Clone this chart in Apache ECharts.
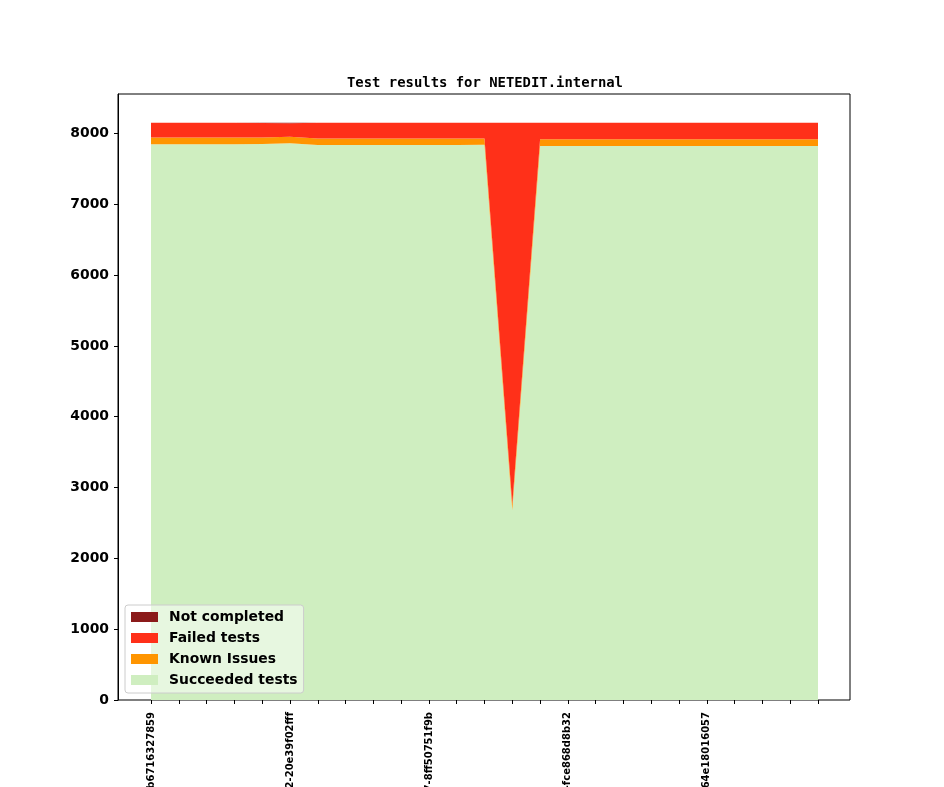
<!DOCTYPE html>
<html>
<head>
<meta charset="utf-8">
<title>Test results for NETEDIT.internal</title>
<script src="https://cdn.jsdelivr.net/npm/echarts@6/dist/echarts.min.js"></script>
<style>
  html, body { margin: 0; padding: 0; background: #fff; }
  #chart { width: 944px; height: 787px; }
</style>
</head>
<body>
<div id="chart"></div>
<script>
// builds (x axis), only every 5th one is labelled
const categories = [
  '2023-02-25-b6716327859', '2023-02-26-3a1f9c04e2d', '2023-02-27-7c2e5b81a90', '2023-02-28-e94d0a6b13f',
  '2023-03-01-5b08c7f2d41', '2023-03-02-20e39f02fff', '2023-03-03-c41a7e9d825', '2023-03-04-0f6b3d28ea7',
  '2023-03-05-91d5c0a4b36', '2023-03-06-a7e2f813c50', '2023-03-07-8ff50751f9b', '2023-03-08-4d9c12e7b08',
  '2023-03-09-e03b6f5a91c', '2023-03-10-62af0d84c7e', '2023-03-11-1c7e94b3fd2', '2023-03-12-fce868d8b32',
  '2023-03-13-b52d07e1a6f', '2023-03-14-3e81fa9c042', '2023-03-15-d6c30b7f15a', '2023-03-16-09a4e62d8bc',
  '2023-03-17-64e18016057', '2023-03-18-7b3f5c90e21', '2023-03-19-f20d8a46c13', '2023-03-20-a85e1b3097d',
  '2023-03-21-2d6f94c0e8b'
];

const succeeded = [7848, 7848, 7848, 7848, 7850, 7862, 7838, 7838, 7838, 7838, 7838, 7838, 7840,
  2680, 7822, 7822, 7822, 7822, 7822, 7822, 7822, 7822, 7822, 7822, 7822];
const knownIssues = [94, 94, 94, 94, 94, 93, 90, 90, 90, 90, 90, 90, 89,
  88, 96, 96, 96, 96, 96, 96, 96, 96, 96, 96, 96];
const failed = [208, 208, 208, 208, 202, 189, 224, 224, 224, 224, 224, 224, 223,
  5384, 234, 234, 234, 234, 234, 234, 234, 234, 234, 234, 234];
const notCompleted = [2, 2, 2, 2, 6, 8, 0, 0, 0, 0, 0, 0, 0,
  0, 0, 0, 0, 0, 0, 0, 0, 0, 0, 0, 0];

const yTicks = [0, 1000, 2000, 3000, 4000, 5000, 6000, 7000, 8000];
const yMax = 8557;

const font = 'DejaVu Sans';

function area(name, data, color) {
  return {
    name: name,
    type: 'line',
    stack: 'total',
    xAxisIndex: 1,
    yAxisIndex: 1,
    data: data,
    symbol: 'none',
    color: color,
    lineStyle: { width: 0 },
    areaStyle: { color: color, opacity: 1 },
    emphasis: { disabled: true }
  };
}

const chart = echarts.init(document.getElementById('chart'), null, { renderer: 'canvas' });
chart.setOption({
  animation: false,
  title: {
    text: 'Test results for NETEDIT.internal',
    left: 342,
    top: 71,
    textStyle: { fontFamily: 'DejaVu Sans Mono', fontWeight: 'bold', fontSize: 13.9, color: '#000' }
  },
  legend: {
    orient: 'vertical',
    left: 125,
    top: 605,
    padding: [5, 6, 6, 6],
    itemGap: 7,
    itemWidth: 27,
    itemHeight: 10,
    icon: 'rect',
    backgroundColor: 'rgba(255,255,255,0.5)',
    borderColor: '#cccccc',
    borderWidth: 1,
    borderRadius: 3,
    data: ['Not completed', 'Failed tests', 'Known Issues', 'Succeeded tests'],
    textStyle: { fontFamily: font, fontWeight: 'bold', fontSize: 13.9, color: '#000', padding: [0, 0, 0, 6] }
  },
  grid: [
    // outer frame with y axis
    { left: 118, right: 94, top: 94, bottom: 87, show: true, borderColor: '#000', borderWidth: 1,
      containLabel: false, outerBoundsMode: 'none' },
    // data area (matplotlib keeps a 5% margin on both sides)
    { left: 151, right: 126, top: 94, bottom: 87, containLabel: false, outerBoundsMode: 'none' }
  ],
  xAxis: [
    { gridIndex: 0, type: 'value', min: 0, max: 1, show: false },
    {
      gridIndex: 1,
      type: 'category',
      data: categories,
      boundaryGap: false,
      axisLine: { show: false },
      axisTick: { show: true, interval: 0, length: 4, lineStyle: { color: '#000' } },
      splitLine: { show: false },
      axisLabel: {
        interval: 4,
        rotate: 90,
        margin: 12,
        fontFamily: font,
        fontWeight: 'bold',
        fontSize: 10,
        color: '#000'
      }
    }
  ],
  yAxis: [
    {
      gridIndex: 0,
      type: 'value',
      min: 0,
      max: yMax,
      axisLine: { show: true, onZero: false, lineStyle: { color: '#000', width: 1 } },
      axisTick: { show: true, length: 4, lineStyle: { color: '#000' }, customValues: yTicks },
      splitLine: { show: false },
      axisLabel: {
        customValues: yTicks,
        margin: 9,
        fontFamily: font,
        fontWeight: 'bold',
        fontSize: 13.9,
        color: '#000',
        formatter: v => String(v)
      }
    },
    { gridIndex: 1, type: 'value', min: 0, max: yMax, show: false }
  ],
  series: [
    area('Succeeded tests', succeeded, '#cfeec0'),
    area('Known Issues', knownIssues, '#ff9500'),
    area('Failed tests', failed, '#ff3019'),
    area('Not completed', notCompleted, '#8b1a1a')
  ]
});
</script>
</body>
</html>
